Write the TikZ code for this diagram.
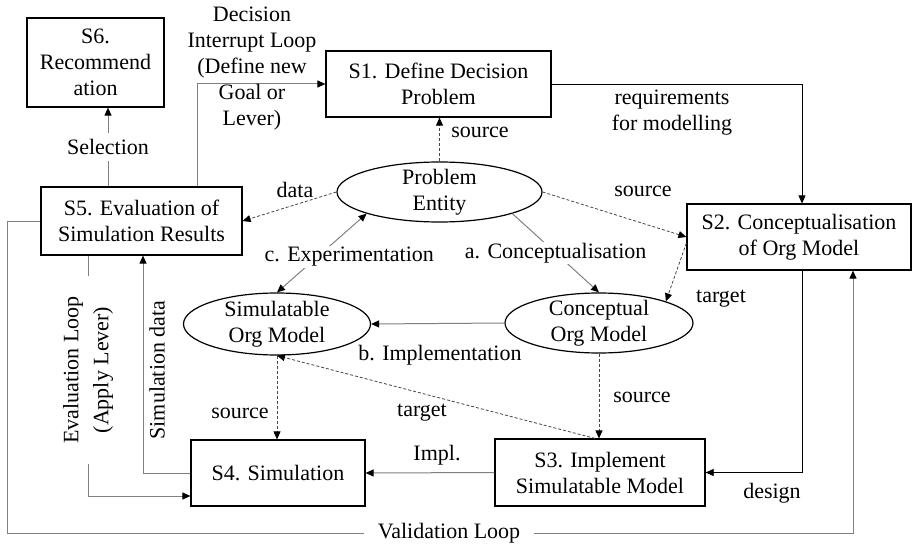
\documentclass[tikz,border=0pt]{standalone}
\usepackage{fontspec}
\setmainfont{Liberation Serif}
\usetikzlibrary{shapes.geometric,arrows.meta}

\tikzset{
   stepbox/.style={draw, line width=1.2pt, align=center, inner sep=0pt},
   entity/.style={draw, ellipse, line width=1.2pt, align=center, inner xsep=0pt, inner ysep=-4pt},
   flow/.style={draw=gray, line width=1pt, ->},
   link/.style={draw=black, line width=0.7pt, ->},
   refline/.style={draw=gray!55!black, line width=0.8pt, dash pattern=on 3pt off 2pt, ->},
   lbl/.style={align=center, inner sep=1pt}
}

\begin{document}
\begin{tikzpicture}[x=1pt, y=-1pt, >={Triangle[length=8pt,width=7pt,color=black]},
      font=\fontsize{22}{26}\selectfont]

      \useasboundingbox (0,0) rectangle (912,548);

      \node [stepbox, minimum width=137pt, minimum height=89pt] (S6) at (95.5,62.5) {S6.\\Recommend\\ation};
      \node [stepbox, minimum width=225pt, minimum height=66pt] (S1) at (438.5,84) {S1. Define Decision\\Problem};
      \node [stepbox, minimum width=201pt, minimum height=68pt] (S5) at (141.5,221) {S5. Evaluation of\\Simulation Results};
      \node [stepbox, minimum width=224pt, minimum height=66pt] (S2) at (799,237) {S2. Conceptualisation\\of Org Model};
      \node [stepbox, minimum width=210pt, minimum height=67pt] (S3) at (600,472.5) {S3. Implement\\Simulatable Model};
      \node [stepbox, minimum width=174pt, minimum height=66pt] (S4) at (278,473) {S4. Simulation};

      \node [entity, minimum width=205pt, minimum height=60pt] (PE) at (439.5,192) {Problem\\Entity};
      \node [entity, minimum width=188pt, minimum height=60pt] (CM) at (599,323) {Conceptual\\Org Model};
      \node [entity, minimum width=187pt, minimum height=62pt] (SM) at (277,324) {Simulatable\\Org Model};

      \coordinate (vl) at (7,533);

      \draw [flow] ([xshift=-33.5pt]S5.north) -- node [lbl, fill=white, inner ysep=6pt] (sel) {Selection} ([xshift=12.5pt]S6.south);
      \draw [flow] ([xshift=55.5pt]S5.north) |- (S1.west);
      \draw [link] (S1.east) -| ([xshift=3pt]S2.north);
      \draw [link] ([xshift=3pt]S2.south) |- (S3.east);

      \draw [refline] (PE.north) -- (PE.north |- S1.south);
      \draw [refline] (PE.west) -- (S5.east);
      \draw [refline] (PE.east) -- (S2.west);
      \draw [refline] ([yshift=-6pt]S2.west) -- (CM.north east);
      \draw [refline] (CM.south) -- (CM.south |- S3.north);
      \draw [refline] (SM.south) -- (SM.south |- S4.north);
      \draw [refline] ([xshift=-5pt]S3.north) -- (SM.south);

      \draw [flow] (PE.south east) -- node [lbl, fill=white] (conc) {a. Conceptualisation} (CM.north);
      \draw [flow] (CM.west) -- (SM.east);
      \draw [flow, <->] (SM.north) -- node [lbl, fill=white, pos=0.45, xshift=32pt] (expm) {c. Experimentation} (PE.south west);
      \draw [flow] (S3.west) -- (S4.east);

      \draw [flow] (S4.west) -| ([xshift=1.5pt]S5.south);
      \draw [flow] ([xshift=-53.5pt]S5.south) |- ([yshift=-23pt]S4.west);
      \draw [flow] (S5.west) -| (vl) -| ([xshift=54pt]S2.south);

      \node [lbl] (dil) at (252,68.5) {Decision\\Interrupt Loop\\(Define new\\Goal or\\Lever)};
      \node [lbl] (req) at (672,113) {requirements\\for modelling};
      \node [lbl] (src1) at (480,132) {source};
      \node [lbl] (dat) at (295,190) {data};
      \node [lbl] (src2) at (643,191) {source};
      \node [lbl] (tgt1) at (721,299) {target};
      \node [lbl] (impl) at (440,355) {b. Implementation};
      \node [lbl] (src3) at (642,397) {source};
      \node [lbl] (src4) at (240,413) {source};
      \node [lbl] (tgt2) at (422,413) {target};
      \node [lbl] (implshort) at (437,455) {Impl.};
      \node [lbl] (des) at (772,493) {design};
      \node [lbl, rotate=90] (simdata) at (157,370) {Simulation data};
      \node [lbl, rotate=90, fill=white, inner xsep=20pt] (evloop) at (88,370) {Evaluation Loop\\[4pt](Apply Lever)};
      \node [lbl, fill=white, inner xsep=14pt] (vloop) at (449,533) {Validation Loop};

   \end{tikzpicture}
\end{document}
